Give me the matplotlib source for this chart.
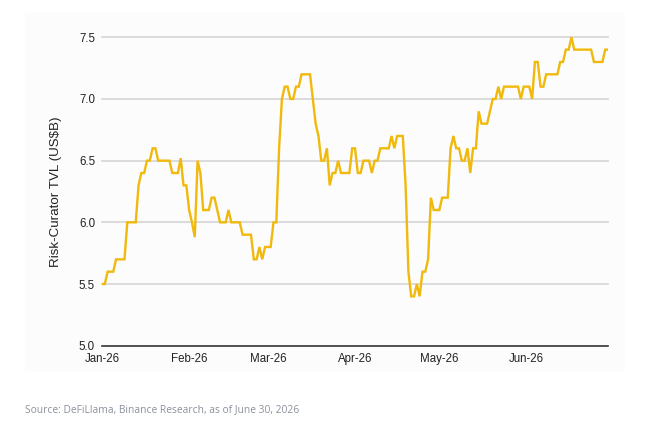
import matplotlib
matplotlib.use("Agg")
import matplotlib.pyplot as plt
import matplotlib.dates as mdates
import pandas as pd
from matplotlib.patches import Rectangle

start_date = "2026-01-01"
tvl = [
    5.5, 5.5, 5.6, 5.6, 5.6, 5.7, 5.7, 5.7, 5.7, 6.0,
    6.0, 6.0, 6.0, 6.3, 6.4, 6.4, 6.5, 6.5, 6.6, 6.6,
    6.5, 6.5, 6.5, 6.5, 6.5, 6.4, 6.4, 6.4, 6.52, 6.3,
    6.3, 6.1, 6.0, 5.88, 6.5, 6.4, 6.1, 6.1, 6.1, 6.2,
    6.2, 6.1, 6.0, 6.0, 6.0, 6.1, 6.0, 6.0, 6.0, 6.0,
    5.9, 5.9, 5.9, 5.9, 5.7, 5.7, 5.8, 5.7, 5.8, 5.8,
    5.8, 6.0, 6.0, 6.6, 7.0, 7.1, 7.1, 7.0, 7.0, 7.1,
    7.1, 7.2, 7.2, 7.2, 7.2, 7.0, 6.8, 6.7, 6.5, 6.5,
    6.6, 6.3, 6.4, 6.4, 6.5, 6.4, 6.4, 6.4, 6.4, 6.6,
    6.6, 6.4, 6.4, 6.5, 6.5, 6.5, 6.4, 6.5, 6.5, 6.6,
    6.6, 6.6, 6.6, 6.7, 6.6, 6.7, 6.7, 6.7, 6.3, 5.6,
    5.4, 5.4, 5.5, 5.4, 5.6, 5.6, 5.7, 6.2, 6.1, 6.1,
    6.1, 6.2, 6.2, 6.2, 6.6, 6.7, 6.6, 6.6, 6.5, 6.5,
    6.6, 6.4, 6.6, 6.6, 6.9, 6.8, 6.8, 6.8, 6.9, 7.0,
    7.0, 7.1, 7.0, 7.1, 7.1, 7.1, 7.1, 7.1, 7.1, 7.0,
    7.1, 7.1, 7.1, 7.0, 7.3, 7.3, 7.1, 7.1, 7.2, 7.2,
    7.2, 7.2, 7.2, 7.3, 7.3, 7.4, 7.4, 7.5, 7.4, 7.4,
    7.4, 7.4, 7.4, 7.4, 7.4, 7.3, 7.3, 7.3, 7.3, 7.4,
    7.4,
]
dates = pd.date_range(start_date, periods=len(tvl), freq="D")
y_ticks = [5.0, 5.5, 6.0, 6.5, 7.0, 7.5]
month_ticks = pd.date_range("2026-01-01", "2026-06-01", freq="MS")
y_label = "Risk-Curator TVL (US$B)"
source = "Source: DeFiLlama, Binance Research, as of June 30, 2026"

fig = plt.figure(figsize=(6.5, 4.3), dpi=100)
fig.patch.set_facecolor("white")
W, H = 650, 430
fig.patches.append(Rectangle((25 / W, 1 - 372 / H), 600 / W, 360 / H,
                             transform=fig.transFigure, facecolor="#fcfcfc",
                             edgecolor="none", zorder=-5))

ax = fig.add_axes([102 / W, 1 - 345.7 / H, (608 - 102) / W, (345.7 - 37.3) / H])
ax.set_zorder(2)
ax.set_facecolor("none")
ax.plot(dates, tvl, color="#F0B90B", lw=1.7, zorder=3, solid_joinstyle="miter")

ax.set_ylim(5.0, 7.5)
ax.set_xlim(dates[0], dates[-1])
ax.set_yticks(y_ticks)
ax.set_yticklabels([f"{v:.1f}" for v in y_ticks])
ax.set_xticks(month_ticks)
ax.xaxis.set_major_formatter(mdates.DateFormatter("%b-%y"))

for v in y_ticks[1:]:
    ax.axhline(v, color="#d5d5d5", lw=1.2, zorder=1, clip_on=False)

for s in ["top", "right", "left"]:
    ax.spines[s].set_visible(False)
ax.spines["bottom"].set_color("#333333")
ax.spines["bottom"].set_linewidth(1.2)
ax.spines["bottom"].set_zorder(4)

ax.tick_params(axis="both", length=0, labelsize=8.3, colors="#222222")
ax.tick_params(axis="y", pad=5)
ax.tick_params(axis="x", pad=5)
for lab in ax.get_xticklabels() + ax.get_yticklabels():
    lab.set_fontfamily("Liberation Sans")
    lab.set_color("#222222")

ax.set_ylabel(y_label, fontsize=9.6, family="Liberation Sans", color="#222222", labelpad=12)

fig.text(25 / W, 1 - 410 / H, source, fontsize=7.4, family="Open Sans",
         color="#8b919c", va="center", ha="left")

fig.savefig("out.png", dpi=100)
